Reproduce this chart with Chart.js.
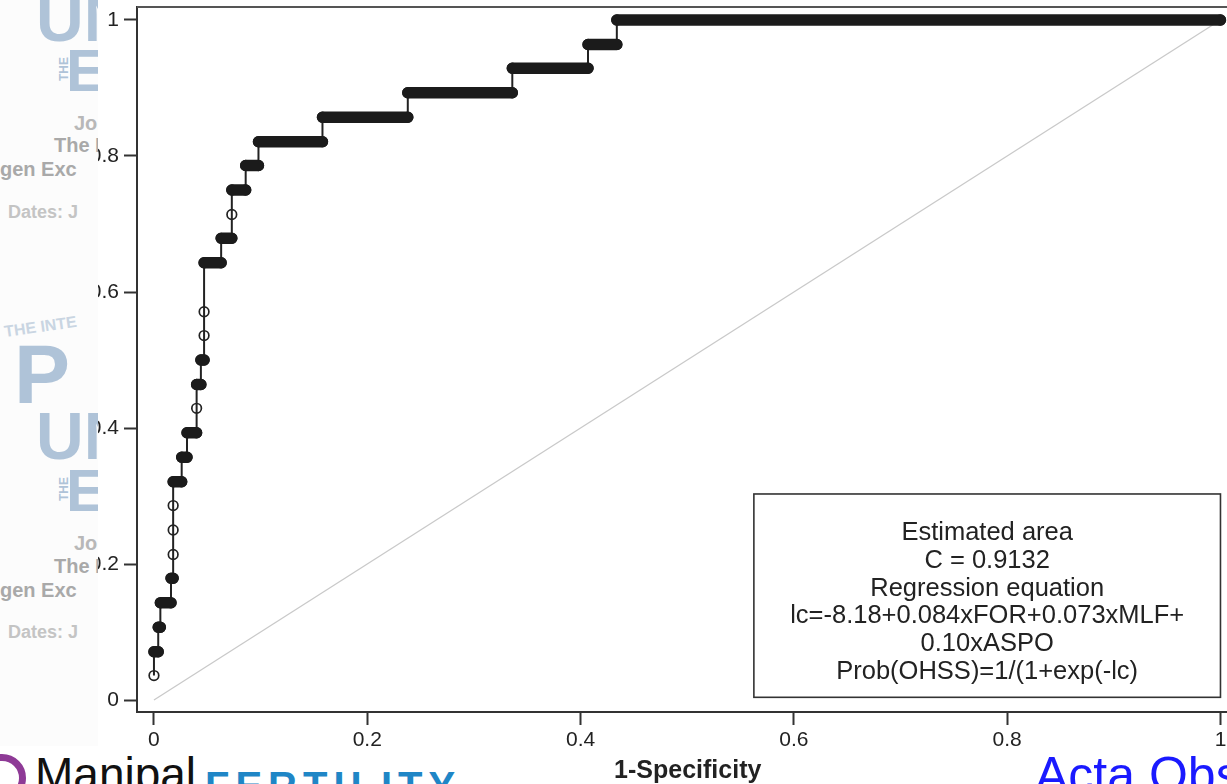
<!DOCTYPE html>
<html>
<head>
<meta charset="utf-8">
<script src="https://cdn.jsdelivr.net/npm/chart.js@4.4.1/dist/chart.umd.min.js"></script>
<style>
html,body{margin:0;padding:0;background:#fff;overflow:hidden;width:1227px;height:784px;position:relative;}
#wrap{position:absolute;left:0;top:0;width:1245px;height:784px;}
#wm{position:absolute;left:0;top:0;width:98px;height:746px;background:#fcfcfc;overflow:hidden;font-family:"Liberation Sans",Arial,sans-serif;}
#wm span{position:absolute;white-space:nowrap;}
.big{font-weight:bold;color:#afc3d8;}
.gr{font-weight:bold;color:#a9a9a9;font-size:20px;}
.lg{color:#c4c4c4;font-size:18px;font-weight:bold;}
#logo{position:absolute;left:0;top:746px;width:545px;height:38px;background:#fff;overflow:hidden;font-family:"Liberation Sans",Arial,sans-serif;}
#logo span{position:absolute;white-space:nowrap;}
#acta{position:absolute;left:1035px;top:750px;font:50px/50px "Liberation Sans",Arial,sans-serif;color:#1a1aff;white-space:nowrap;}
</style>
</head>
<body>
<div id="wrap"><canvas id="c" width="1245" height="784"></canvas></div>
<div id="wm">
  <span class="big" style="left:36px;top:-20px;font-size:66px;">UN</span>
  <span class="big" style="left:52px;top:62px;font-size:12px;transform:rotate(-90deg);">THE</span>
  <span class="big" style="left:66px;top:36px;font-size:60px;">E</span>
  <span class="gr" style="left:74px;top:112px;color:#b8b8b8;">Jo</span>
  <span class="gr" style="left:54px;top:134px;">The P</span>
  <span class="gr" style="left:0px;top:158px;">gen Exc</span>
  <span class="lg" style="left:8px;top:202px;">Dates: J</span>
  <span class="big" style="left:4px;top:318px;font-size:16px;color:#c9d5e2;transform:rotate(-8deg);">THE INTE</span>
  <span class="big" style="left:14px;top:326px;font-size:84px;">P</span>
  <span class="big" style="left:36px;top:398px;font-size:66px;">UN</span>
  <span class="big" style="left:52px;top:482px;font-size:12px;transform:rotate(-90deg);">THE</span>
  <span class="big" style="left:66px;top:456px;font-size:60px;">E</span>
  <span class="gr" style="left:74px;top:532px;color:#b8b8b8;">Jo</span>
  <span class="gr" style="left:54px;top:555px;">The P</span>
  <span class="gr" style="left:0px;top:579px;">gen Exc</span>
  <span class="lg" style="left:8px;top:622px;">Dates: J</span>
</div>
<div id="logo">
  <div style="position:absolute;left:-22px;top:8px;width:34px;height:34px;border:7px solid #8e3a96;border-radius:50%;"></div>
  <span style="left:35px;top:5px;font-size:46px;line-height:46px;color:#111;">Manipal</span>
  <span style="left:205px;top:20px;font-size:40px;line-height:40px;font-weight:bold;letter-spacing:6px;color:#1f86c6;">FERTILITY</span>
</div>
<div id="acta">Acta Obstet Gynecol Scand</div>

<script>
// ---- data ----
const tickValues = [0, 0.2, 0.4, 0.6, 0.8, 1];
const xTickLabels = ['0', '0.2', '0.4', '0.6', '0.8', '1'];
const yTickLabels = ['0', '0.2', '0.4', '0.6', '0.8', '1'];

// sensitivity levels of the ROC steps
const sensitivity = [0.036, 0.071, 0.107, 0.143, 0.179, 0.214, 0.250, 0.286, 0.321, 0.357,
                     0.393, 0.429, 0.464, 0.500, 0.536, 0.571, 0.643, 0.679, 0.714, 0.750,
                     0.786, 0.821, 0.857, 0.893, 0.929, 0.964, 1.000];
// 1-specificity where each step begins / ends
const fprStart = [0.000, 0.000, 0.004, 0.006, 0.016, 0.018, 0.018, 0.018, 0.018, 0.026,
                  0.031, 0.040, 0.040, 0.044, 0.047, 0.047, 0.047, 0.063, 0.073, 0.073,
                  0.086, 0.098, 0.158, 0.238, 0.336, 0.407, 0.434];
const fprEnd   = [0.000, 0.004, 0.006, 0.016, 0.018, 0.018, 0.018, 0.018, 0.026, 0.031,
                  0.040, 0.040, 0.044, 0.047, 0.047, 0.047, 0.063, 0.073, 0.073, 0.086,
                  0.098, 0.158, 0.238, 0.336, 0.407, 0.434, 1.000];
const diagonalX = [0, 1];
const diagonalY = [0, 1];

const boxLines = ['Estimated area', 'C = 0.9132', 'Regression equation',
                  'lc=-8.18+0.084xFOR+0.073xMLF+', '0.10xASPO', 'Prob(OHSS)=1/(1+exp(-lc)'];
const xTitle = '1-Specificity';

// ---- build library datasets from the arrays ----
const curvePts = [];
const barPts = [];
for (let i = 0; i < sensitivity.length; i++) {
  curvePts.push({x: fprStart[i], y: sensitivity[i]});
  if (fprEnd[i] > fprStart[i]) {
    curvePts.push({x: fprEnd[i], y: sensitivity[i]});
    barPts.push({x: fprStart[i], y: sensitivity[i]});
    barPts.push({x: fprEnd[i], y: sensitivity[i]});
    barPts.push({x: fprEnd[i], y: null});
  }
}
const diagPts = diagonalX.map((x, i) => ({x, y: diagonalY[i]}));

const FONT = '"Liberation Sans", Arial, sans-serif';
const INK = '#222';

const boxPlugin = {
  id: 'boxPlugin',
  afterDraw(chart) {
    const {ctx, chartArea: a, scales: {x, y}} = chart;
    ctx.save();
    ctx.strokeStyle = '#555';
    ctx.lineWidth = 2;
    ctx.beginPath();
    ctx.moveTo(a.left, a.top);
    ctx.lineTo(a.right, a.top);
    ctx.lineTo(a.right, a.bottom);
    ctx.stroke();
    const bx0 = x.getPixelForValue(0.5625), bx1 = x.getPixelForValue(1.0);
    const by0 = y.getPixelForValue(0.303), by1 = y.getPixelForValue(0.004);
    ctx.fillStyle = '#fff';
    ctx.fillRect(bx0, by0, bx1 - bx0, by1 - by0);
    ctx.strokeStyle = '#333';
    ctx.lineWidth = 1.6;
    ctx.strokeRect(bx0, by0, bx1 - bx0, by1 - by0);
    ctx.fillStyle = INK;
    ctx.font = '25.5px ' + FONT;
    ctx.textAlign = 'center';
    ctx.textBaseline = 'middle';
    const cx = (bx0 + bx1) / 2;
    boxLines.forEach((t, i) => ctx.fillText(t, cx, by0 + 39 + i * 27.8));
    ctx.restore();
  }
};

new Chart(document.getElementById('c'), {
  type: 'scatter',
  data: {
    datasets: [
      {
        data: barPts, showLine: true, borderColor: '#1b1b1b', borderWidth: 11.5,
        borderCapStyle: 'round', borderJoinStyle: 'round', pointRadius: 0,
        spanGaps: false, order: 1
      },
      {
        data: curvePts, showLine: true, borderColor: INK, borderWidth: 2,
        pointRadius: 4.8, pointStyle: 'circle', pointBorderWidth: 1.7,
        pointBorderColor: INK, pointBackgroundColor: 'rgba(255,255,255,0)', order: 2
      },
      {
        data: diagPts, showLine: true, borderColor: '#c9c9c9', borderWidth: 1.3,
        pointRadius: 0, order: 3
      }
    ]
  },
  options: {
    responsive: false,
    animation: false,
    events: [],
    layout: {padding: {top: 7, right: 5, left: 0, bottom: 0}},
    plugins: {legend: {display: false}, tooltip: {enabled: false}},
    scales: {
      x: {
        type: 'linear', min: -0.0159, max: 1.0169,
        afterBuildTicks: s => { s.ticks = tickValues.map(v => ({value: v})); },
        afterFit: s => { s.height = 72; s.paddingLeft = 0; s.paddingRight = 0; },
        grid: {drawOnChartArea: false, drawTicks: true, tickLength: 13, tickWidth: 2, tickColor: '#333'},
        border: {display: true, color: '#333', width: 2},
        ticks: {
          padding: 3, color: INK, font: {family: FONT, size: 21}, maxRotation: 0, autoSkip: false,
          callback: (v) => xTickLabels[tickValues.indexOf(v)]
        },
        title: {display: true, text: xTitle, color: INK, padding: {top: 0, bottom: 0},
                font: {family: FONT, size: 25, weight: 'bold', lineHeight: 1}}
      },
      y: {
        type: 'linear', min: -0.0176, max: 1.0191,
        afterBuildTicks: s => { s.ticks = tickValues.map(v => ({value: v})); },
        afterFit: s => { s.width = 137; s.paddingTop = 0; s.paddingBottom = 0; },
        grid: {drawOnChartArea: false, drawTicks: true, tickLength: 13, tickWidth: 2, tickColor: '#333'},
        border: {display: true, color: '#333', width: 2},
        ticks: {
          padding: 5, color: INK, font: {family: FONT, size: 21}, autoSkip: false,
          callback: (v) => yTickLabels[tickValues.indexOf(v)]
        }
      }
    }
  },
  plugins: [boxPlugin]
});
</script>
</body>
</html>
